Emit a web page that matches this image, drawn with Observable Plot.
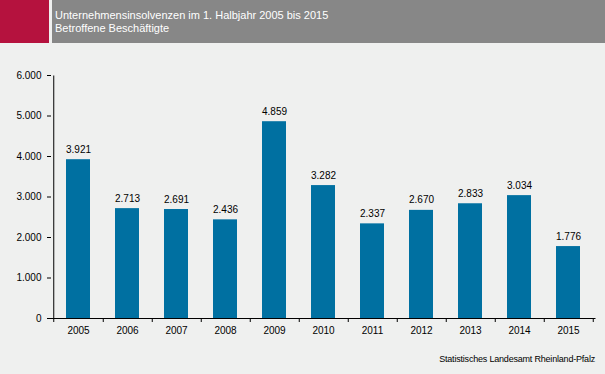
<!DOCTYPE html>
<html>
<head>
<meta charset="utf-8">
<script src="https://cdn.jsdelivr.net/npm/d3@7"></script>
<script src="https://cdn.jsdelivr.net/npm/@observablehq/plot@0.6"></script>
<style>
  html, body { margin: 0; padding: 0; background: #eff0ef; }
  #wrap { position: relative; width: 605px; height: 374px; overflow: hidden; font-family: "Liberation Sans", Arial, sans-serif; }
  #red { position: absolute; left: 0; top: 0; width: 49px; height: 43px; background: #b5123e; }
  #head { position: absolute; left: 52px; top: 0; width: 553px; height: 43px; background: #878787; color: #fff; font-size: 11px; line-height: 12px; }
  #head .t1 { position: absolute; left: 3px; top: 9px; white-space: nowrap; }
  #head .t2 { position: absolute; left: 3px; top: 22px; white-space: nowrap; }
  #src { position: absolute; right: 10px; top: 354px; font-size: 9px; color: #000; white-space: nowrap; letter-spacing: -0.2px; }
  #chart { position: absolute; left: 0; top: 0; }
</style>
</head>
<body>
<div id="wrap">
  <div id="chart"></div>
  <div id="red"></div>
  <div id="head"><div class="t1">Unternehmensinsolvenzen im 1. Halbjahr 2005 bis 2015</div><div class="t2">Betroffene Beschäftigte</div></div>
  <div id="src">Statistisches Landesamt Rheinland-Pfalz</div>
</div>
<script>
const years = ["2005","2006","2007","2008","2009","2010","2011","2012","2013","2014","2015"];
const values = [3921, 2713, 2691, 2436, 4859, 3282, 2337, 2670, 2833, 3034, 1776];
const yTicks = [0, 1000, 2000, 3000, 4000, 5000, 6000];

const data = years.map((y, i) => ({year: y, value: values[i]}));
const fmt = d => d.toLocaleString("de-DE");

const W = 605, H = 374, mL = 51, mR = 9.5;
const step = (W - mL - mR) / years.length;
const yMax = yTicks[yTicks.length - 1];

const plot = Plot.plot({
  width: W,
  height: H,
  marginTop: 75,
  marginBottom: 56,
  marginLeft: mL,
  marginRight: mR,
  style: {background: "transparent", fontFamily: "'Liberation Sans', Arial, sans-serif", fontSize: "10px", color: "#000"},
  x: {domain: years, paddingInner: 0.515, paddingOuter: 0.2575, axis: null},
  y: {domain: [0, yMax], axis: null},
  marks: [
    Plot.barY(data, {x: "year", y: "value", fill: "#0070a1"}),
    Plot.text(data, {x: "year", y: "value", text: d => fmt(d.value), lineAnchor: "bottom", dy: -7, fill: "#000", fontSize: 10}),
    Plot.ruleY([0], {stroke: "#000"}),
    Plot.link([years[0]], {x1: d => d, x2: d => d, y1: () => 0, y2: () => yMax, dx: -step / 2, stroke: "#000", strokeWidth: 1}),
    Plot.axisY({ticks: yTicks, tickSize: 4, tickPadding: 6, tickFormat: fmt, stroke: "#000", fill: "#000", fontSize: 10, label: null}),
    Plot.axisX({tickSize: 4, dx: step / 2, tickFormat: () => "", stroke: "#000", label: null}),
    Plot.axisX([years[0]], {tickSize: 4, dx: -step / 2, tickFormat: () => "", stroke: "#000", label: null}),
    Plot.axisX({tickSize: 0, tickPadding: 8, fill: "#000", fontSize: 10, label: null})
  ]
});
document.getElementById("chart").appendChild(plot);
</script>
</body>
</html>
